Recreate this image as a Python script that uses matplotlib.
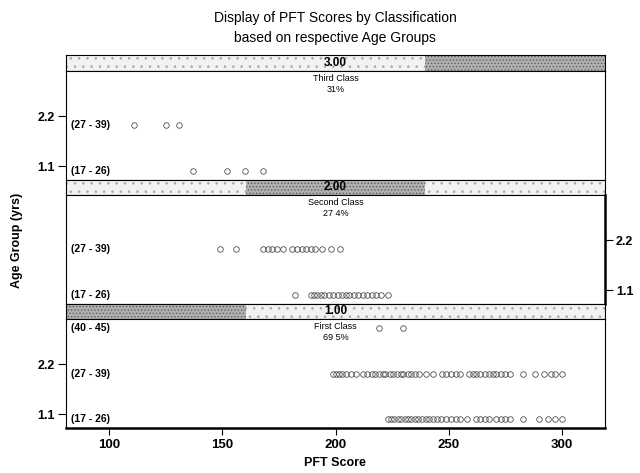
import matplotlib
matplotlib.use("Agg")
from matplotlib import pyplot as plt
from matplotlib.patches import Rectangle

plt.rcParams['font.family'] = ['Liberation Sans', 'DejaVu Sans']
plt.rcParams['hatch.linewidth'] = 0.6

# panels from top to bottom
class_names = ['Third Class', 'Second Class', 'First Class']
class_pct = ['31%', '27 4%', '69 5%']
class_codes = ['3.00', '2.00', '1.00']
class_levels = [3, 2, 1]
age_labels = ['(17 - 26)', '(27 - 39)', '(40 - 45)']

# PFT scores, per class and age group
third_17_26 = [137, 152, 160, 168]
third_27_39 = [111, 125, 131]

second_17_26 = [182, 189, 190.5, 192, 193.5, 195, 197, 199, 201, 203, 204.5,
                206, 208, 210, 212, 214, 216, 218, 220, 223]
second_27_39 = [149, 156, 168, 170, 172, 174, 177, 181, 183, 185, 187, 189,
                191, 194, 198, 202]

first_17_26 = [223, 224.5, 226, 227.5, 229, 230.5, 232, 233.5, 235, 236.5, 238,
               240, 241.5, 243, 245, 246.5, 249, 251, 253, 255, 258, 262, 264,
               266, 268, 271, 273, 275, 277, 283, 290, 294, 297, 300]
first_27_39 = [199, 200, 201.5, 203, 204.5, 207, 209, 212, 214, 216, 217.5, 219,
               221, 222, 224, 225.5, 227, 229, 230, 232, 233.5, 235, 237, 240,
               243, 247, 249, 251, 253, 255, 259, 260.5, 262, 264, 266, 268,
               269.5, 271, 273, 275, 277, 283, 288, 292, 295, 297, 300]
first_40_45 = [219, 230]

panel_data = [
    [third_17_26, third_27_39],
    [second_17_26, second_27_39],
    [first_17_26, first_27_39, first_40_45],
]

x_ticks = [100, 150, 200, 250, 300]
y_ticks = [1.1, 2.2]

W, H = 640, 473
LEFT, RIGHT = 66, 605
# (strip top, strip bottom, panel bottom) in pixels from the top
rows = [(55, 71, 180), (180, 195, 304), (304, 319, 428)]


def rect(top, bottom):
    return [LEFT / W, 1 - bottom / H, (RIGHT - LEFT) / W, (bottom - top) / H]


fig = plt.figure(figsize=(6.4, 4.73), dpi=100)

for i, (s_top, s_bot, p_bot) in enumerate(rows):
    # strip with the stippled level indicator
    ax_s = fig.add_axes(rect(s_top, s_bot))
    ax_s.set_xlim(0, 3)
    ax_s.set_ylim(0, 1)
    ax_s.add_patch(Rectangle((0, 0), 3, 1, facecolor='#f2f2f2', hatch='..',
                             edgecolor='#a8a8a8', linewidth=0))
    ax_s.add_patch(Rectangle((class_levels[i] - 1, 0), 1, 1, facecolor='#b0b0b0',
                             hatch='.....', edgecolor='#5e5e5e', linewidth=0))
    ax_s.text(1.5, 0.5, class_codes[i], ha='center', va='center', fontsize=8.5,
              fontweight='bold')
    ax_s.set_xticks([])
    ax_s.set_yticks([])
    for sp in ax_s.spines.values():
        sp.set_linewidth(0.8)

    # panel
    ax = fig.add_axes(rect(s_bot, p_bot))
    ax.set_xlim(81, 319)
    ax.set_ylim(0.8, 3.2)
    for level, vals in enumerate(panel_data[i], start=1):
        ax.plot(vals, [level] * len(vals), 'o', mfc='none', mec='#505050',
                ms=4.0, mew=0.6)
        ax.text(83, level, age_labels[level - 1], ha='left', va='center',
                fontsize=7.5, fontweight='bold')
    ax.text(0.5, 0.975, class_names[i] + '\n' + class_pct[i], transform=ax.transAxes,
            ha='center', va='top', fontsize=6.5, linespacing=1.35)

    ax.set_yticks(y_ticks)
    ax.set_yticklabels([str(t) for t in y_ticks], fontsize=9, fontweight='bold')
    ax.tick_params(axis='y', length=6, width=0.8, pad=2)
    if i == 1:
        ax.yaxis.tick_right()
        ax.spines['right'].set_linewidth(1.8)
    if i == 2:
        ax.set_xticks(x_ticks)
        ax.set_xticklabels([str(t) for t in x_ticks], fontsize=9.5, fontweight='bold')
        ax.tick_params(axis='x', length=5, width=0.8, pad=3)
        ax.spines['bottom'].set_linewidth(1.8)
    else:
        ax.set_xticks([])
    for name, sp in ax.spines.items():
        if sp.get_linewidth() < 1.5:
            sp.set_linewidth(0.8)

fig.text(335 / W, 1 - 18 / H, 'Display of PFT Scores by Classification',
         ha='center', va='center', fontsize=10)
fig.text(335 / W, 1 - 38 / H, 'based on respective Age Groups',
         ha='center', va='center', fontsize=10)
fig.text(335 / W, 1 - 463 / H, 'PFT Score', ha='center', va='center',
         fontsize=9, fontweight='bold')
fig.text(17 / W, 1 - 240 / H, 'Age Group (yrs)', ha='center', va='center',
         rotation=90, fontsize=9, fontweight='bold')

fig.savefig('out.png', dpi=100)
